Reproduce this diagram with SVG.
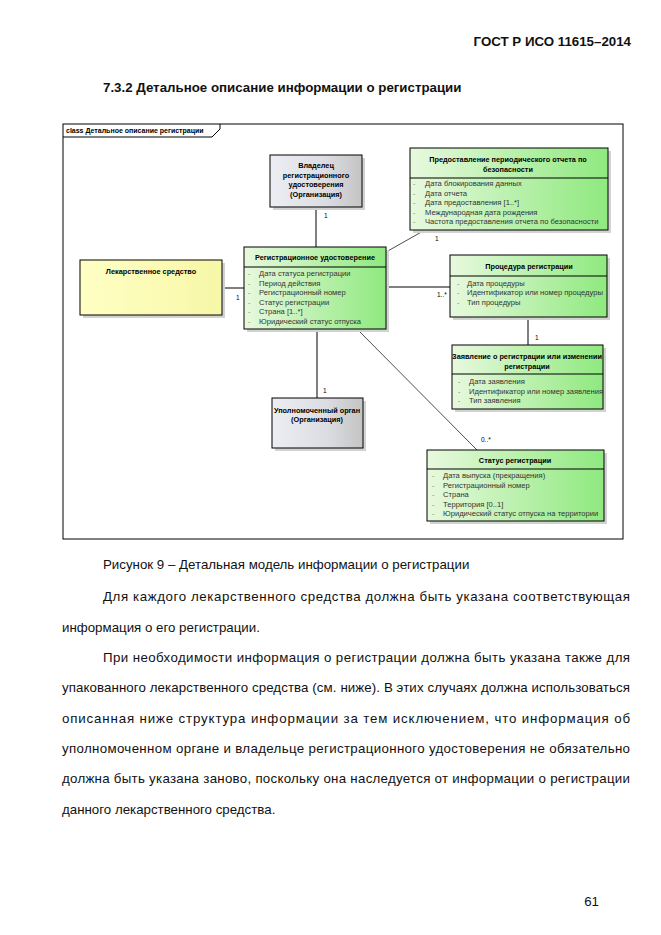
<svg xmlns="http://www.w3.org/2000/svg" width="661" height="935" viewBox="0 0 661 935">
<defs>
<linearGradient id="gGreen" x1="0" y1="0" x2="1" y2="0">
<stop offset="0" stop-color="#e8f9de"/>
<stop offset="1" stop-color="#8fe97f"/>
</linearGradient>
<linearGradient id="gGray" x1="0" y1="0" x2="1" y2="0">
<stop offset="0" stop-color="#eceef3"/>
<stop offset="0.6" stop-color="#dcdde2"/>
<stop offset="1" stop-color="#c4c4c4"/>
</linearGradient>
<linearGradient id="gYellow" x1="0" y1="0" x2="1" y2="0">
<stop offset="0" stop-color="#ffffc4"/>
<stop offset="1" stop-color="#f7f7a8"/>
</linearGradient>
</defs>
<style>
.page{font-family:"Liberation Sans",Arial,sans-serif;fill:#111;}
.pb{font-weight:bold;font-size:13.3px;}
.pn{font-size:13.3px;}
.box{stroke:#000;stroke-width:1;}
.green{fill:url(#gGreen);}
.gray{fill:url(#gGray);}
.yellow{fill:url(#gYellow);}
.shadow{fill:#d2d2d2;stroke:none;}
.sep{stroke:#000;stroke-width:1;}
.hd{font-family:"Liberation Sans",Arial,sans-serif;font-size:7.3px;font-weight:bold;fill:#000;text-anchor:middle;}
.at{font-family:"Liberation Sans",Arial,sans-serif;font-size:7.6px;fill:#333;}
.dash{font-family:"Liberation Sans",Arial,sans-serif;font-size:7px;fill:#6a8f5a;}
.lbl{font-family:"Liberation Sans",Arial,sans-serif;font-size:6.5px;fill:#000;}
.conn{stroke:#000;stroke-width:1;fill:none;}
.thin{stroke:#000;stroke-width:0.7;fill:none;}
</style>
<rect width="661" height="935" fill="#fff"/>

<g id="page-text" class="page">
<text class="pb" x="631" y="46" text-anchor="end">ГОСТ Р ИСО 11615–2014</text>
<text class="pb" x="103" y="92">7.3.2 Детальное описание информации о регистрации</text>
<text class="pn" x="103" y="569">Рисунок 9 – Детальная модель информации о регистрации</text>
<text class="pn" x="103" y="601" textLength="527" lengthAdjust="spacing">Для каждого лекарственного средства должна быть указана соответствующая</text>
<text class="pn" x="62" y="632">информация о его регистрации.</text>
<text class="pn" x="103" y="662" textLength="527" lengthAdjust="spacing">При необходимости информация о регистрации должна быть указана также для</text>
<text class="pn" x="62" y="692" textLength="568" lengthAdjust="spacing">упакованного лекарственного средства (см. ниже). В этих случаях должна использоваться</text>
<text class="pn" x="62" y="723" textLength="568" lengthAdjust="spacing">описанная ниже структура информации за тем исключением, что информация об</text>
<text class="pn" x="62" y="753" textLength="568" lengthAdjust="spacing">уполномоченном органе и владельце регистрационного удостоверения не обязательно</text>
<text class="pn" x="62" y="783" textLength="568" lengthAdjust="spacing">должна быть указана заново, поскольку она наследуется от информации о регистрации</text>
<text class="pn" x="62" y="814">данного лекарственного средства.</text>
<text class="pn" x="599" y="906" text-anchor="end">61</text>
</g>

<g id="frame">
<rect x="63" y="124" width="560" height="415" fill="none" stroke="#000" stroke-width="1"/>
<polyline points="63,137 212,137 220,129 220,124" fill="none" stroke="#000" stroke-width="1"/>
<text x="66" y="133" font-family="Liberation Sans, Arial, sans-serif" font-size="7px" font-weight="bold" fill="#000">class Детальное описание регистрации</text>
</g>

<g id="connectors">
<line class="conn" x1="222" y1="288" x2="244" y2="288"/>
<line class="conn" x1="316" y1="207" x2="316" y2="247"/>
<line class="thin" x1="386" y1="252" x2="425" y2="230"/>
<line class="conn" x1="386" y1="287" x2="450" y2="287"/>
<line class="conn" x1="528" y1="317" x2="528" y2="345"/>
<line class="conn" x1="317" y1="329" x2="317" y2="398"/>
<line class="thin" x1="357" y1="329" x2="477" y2="450"/>
<text class="lbl" x="236" y="300">1</text>
<text class="lbl" x="324" y="218">1</text>
<text class="lbl" x="435" y="241">1</text>
<text class="lbl" x="437" y="297">1..*</text>
<text class="lbl" x="535" y="340">1</text>
<text class="lbl" x="323" y="393">1</text>
<text class="lbl" x="481" y="442">0..*</text>
</g>

<g id="node-drug">
<rect class="shadow" x="83" y="263" width="142" height="55"/>
<rect class="box yellow" x="80" y="260" width="142" height="55"/>
<text class="hd" x="151" y="274">Лекарственное средство</text>
</g>

<g id="node-owner">
<rect class="shadow" x="273" y="158" width="92" height="52"/>
<rect class="box gray" x="270" y="155" width="92" height="52"/>
<text class="hd" x="316" y="168">Владелец</text>
<text class="hd" x="316" y="177.5">регистрационного</text>
<text class="hd" x="316" y="187">удостоверения</text>
<text class="hd" x="316" y="196.5">(Организация)</text>
</g>

<g id="node-registration">
<rect class="shadow" x="247" y="250" width="142" height="82"/>
<rect class="box green" x="244" y="247" width="142" height="82"/>
<line class="sep" x1="244" y1="267" x2="386" y2="267"/>
<text class="hd" x="315" y="259.5">Регистрационное удостоверение</text>
<text class="dash" x="248" y="276">-</text><text class="at" x="259" y="276">Дата статуса регистрации</text>
<text class="dash" x="248" y="285.5">-</text><text class="at" x="259" y="285.5">Период действия</text>
<text class="dash" x="248" y="295">-</text><text class="at" x="259" y="295">Регистрационный номер</text>
<text class="dash" x="248" y="304.5">-</text><text class="at" x="259" y="304.5">Статус регистрации</text>
<text class="dash" x="248" y="314">-</text><text class="at" x="259" y="314">Страна [1..*]</text>
<text class="dash" x="248" y="323.5">-</text><text class="at" x="259" y="323.5">Юридический статус отпуска</text>
</g>

<g id="node-psur">
<rect class="shadow" x="413" y="151" width="198" height="82"/>
<rect class="box green" x="410" y="148" width="198" height="82"/>
<line class="sep" x1="410" y1="178" x2="608" y2="178"/>
<text class="hd" x="508" y="162">Предоставление периодического отчета по</text>
<text class="hd" x="508" y="171.5">безопасности</text>
<text class="dash" x="413" y="186">-</text><text class="at" x="425" y="186">Дата блокирования данных</text>
<text class="dash" x="413" y="195.5">-</text><text class="at" x="425" y="195.5">Дата отчета</text>
<text class="dash" x="413" y="205">-</text><text class="at" x="425" y="205">Дата предоставления [1..*]</text>
<text class="dash" x="413" y="214.5">-</text><text class="at" x="425" y="214.5">Международная дата рождения</text>
<text class="dash" x="413" y="224">-</text><text class="at" x="425" y="224">Частота предоставления отчета по безопасности</text>
</g>

<g id="node-procedure">
<rect class="shadow" x="453" y="258" width="157" height="62"/>
<rect class="box green" x="450" y="255" width="157" height="62"/>
<line class="sep" x1="450" y1="276" x2="607" y2="276"/>
<text class="hd" x="529" y="269">Процедура регистрации</text>
<text class="dash" x="457" y="285.5">-</text><text class="at" x="467" y="285.5">Дата процедуры</text>
<text class="dash" x="457" y="295">-</text><text class="at" x="467" y="295">Идентификатор или номер процедуры</text>
<text class="dash" x="457" y="304.5">-</text><text class="at" x="467" y="304.5">Тип процедуры</text>
</g>

<g id="node-application">
<rect class="shadow" x="455" y="348" width="151" height="64"/>
<rect class="box green" x="452" y="345" width="151" height="64"/>
<line class="sep" x1="452" y1="374" x2="603" y2="374"/>
<text class="hd" x="527" y="359">Заявление о регистрации или изменении</text>
<text class="hd" x="527" y="368.5">регистрации</text>
<text class="dash" x="458" y="384">-</text><text class="at" x="469" y="384">Дата заявления</text>
<text class="dash" x="458" y="393.5">-</text><text class="at" x="469" y="393.5">Идентификатор или номер заявления</text>
<text class="dash" x="458" y="403">-</text><text class="at" x="469" y="403">Тип заявления</text>
</g>

<g id="node-authority">
<rect class="shadow" x="275" y="401" width="91" height="50"/>
<rect class="box gray" x="272" y="398" width="91" height="50"/>
<text class="hd" x="317" y="413">Уполномоченный орган</text>
<text class="hd" x="317" y="422">(Организация)</text>
</g>

<g id="node-status">
<rect class="shadow" x="430" y="453" width="177" height="71"/>
<rect class="box green" x="427" y="450" width="177" height="71"/>
<line class="sep" x1="427" y1="469" x2="604" y2="469"/>
<text class="hd" x="515" y="463">Статус регистрации</text>
<text class="dash" x="432" y="478">-</text><text class="at" x="443" y="478">Дата выпуска (прекращения)</text>
<text class="dash" x="432" y="487.5">-</text><text class="at" x="443" y="487.5">Регистрационный номер</text>
<text class="dash" x="432" y="497">-</text><text class="at" x="443" y="497">Страна</text>
<text class="dash" x="432" y="506.5">-</text><text class="at" x="443" y="506.5">Территория [0..1]</text>
<text class="dash" x="432" y="516">-</text><text class="at" x="443" y="516">Юридический статус отпуска на территории</text>
</g>
</svg>
